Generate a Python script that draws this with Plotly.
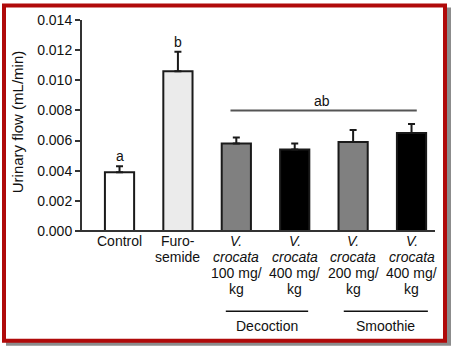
import plotly.graph_objects as go

# Urinary flow per treatment group (mean and upper SEM)
labels = [
    ["Control"],
    ["Furo-", "semide"],
    ["<i>V.</i>", "<i>crocata</i>", "100 mg/", "kg"],
    ["<i>V.</i>", "<i>crocata</i>", "400 mg/", "kg"],
    ["<i>V.</i>", "<i>crocata</i>", "200 mg/", "kg"],
    ["<i>V.</i>", "<i>crocata</i>", "400 mg/", "kg"],
]
flow = [0.0039, 0.0106, 0.0058, 0.0054, 0.0059, 0.0065]
sem = [0.0004, 0.0013, 0.0004, 0.0004, 0.0008, 0.0006]
letters = ["a", "b", "", "", "", ""]
group_letter = "ab"
group_letter_level = 0.008
groups = ["Decoction", "Smoothie"]
group_span = [(1.82, 3.23), (3.84, 5.28)]
bar_colors = ["#ffffff", "#ebebeb", "#808080", "#000000", "#808080", "#000000"]
y_ticks = [0.000, 0.002, 0.004, 0.006, 0.008, 0.010, 0.012, 0.014]

W, H = 452, 348
L, R, T, B = 77, 435, 19.5, 231
FONT = "Arial, Liberation Sans, sans-serif"
FS = 14
LINE = 15.8  # spacing between stacked label lines, px
INK = "#1a1a1a"
TXT = "#111111"


def px(x):
    return (x - L) / (R - L)


def py(y):
    return (B - y) / (B - T)


x = list(range(len(flow)))

fig = go.Figure()
fig.add_trace(go.Bar(
    x=x, y=flow, width=0.5,
    marker=dict(color=bar_colors, line=dict(color=INK, width=2)),
    error_y=dict(type="data", symmetric=False, array=sem,
                 arrayminus=[0] * len(sem), color=INK, thickness=2, width=3.5),
    showlegend=False, cliponaxis=False,
))

shapes = []
# frame shadow and red border
shapes.append(dict(type="rect", xref="paper", yref="paper",
                   x0=px(6), x1=px(451), y0=py(7), y1=py(346),
                   fillcolor="#8c8c8c", line=dict(width=0), layer="below"))
shapes.append(dict(type="rect", xref="paper", yref="paper",
                   x0=px(4), x1=px(445), y0=py(5), y1=py(341),
                   fillcolor="#ffffff", line=dict(color="#b00a0a", width=4),
                   layer="below"))
# x axis line extended to the left of the y axis
shapes.append(dict(type="line", xref="paper", yref="paper",
                   x0=0, x1=1, y0=0, y1=0,
                   line=dict(color="#333333", width=2)))
# common significance bar
shapes.append(dict(type="line", xref="x", yref="y",
                   x0=1.9, x1=5.09, y0=group_letter_level, y1=group_letter_level,
                   line=dict(color="#555555", width=2)))

annotations = []
# x category labels, one annotation per line for tight line spacing
for i, lines in enumerate(labels):
    for k, t in enumerate(lines):
        annotations.append(dict(
            x=i, y=py(241.5 + LINE * k), xref="x", yref="paper", text=t,
            showarrow=False, xanchor="center", yanchor="middle",
            font=dict(family=FONT, size=FS, color=TXT)))
# significance letters
for i, s in enumerate(letters):
    if s:
        annotations.append(dict(
            x=i, y=flow[i] + sem[i], xref="x", yref="y", text=s,
            showarrow=False, yanchor="bottom", yshift=0,
            font=dict(family=FONT, size=FS, color=TXT)))
annotations.append(dict(
    x=3.47, y=group_letter_level, xref="x", yref="y", text=group_letter,
    showarrow=False, yanchor="bottom", yshift=-1,
    font=dict(family=FONT, size=FS, color=TXT)))
# treatment groups
for name, (a, b) in zip(groups, group_span):
    shapes.append(dict(type="line", xref="x", yref="paper",
                       x0=a, x1=b, y0=py(311.5), y1=py(311.5),
                       line=dict(color=TXT, width=1.5)))
    annotations.append(dict(
        x=(a + b) / 2, y=py(326), xref="x", yref="paper", text=name,
        showarrow=False, yanchor="middle",
        font=dict(family=FONT, size=FS, color=TXT)))
# y axis title
annotations.append(dict(
    x=px(17), y=py(122), xref="paper", yref="paper",
    text="Urinary flow (mL/min)", textangle=-90, showarrow=False,
    xanchor="center", yanchor="middle",
    font=dict(family=FONT, size=15, color=TXT)))

fig.update_layout(
    width=W, height=H,
    margin=dict(l=L, r=W - R, t=T, b=H - B, pad=0),
    paper_bgcolor="#ffffff", plot_bgcolor="rgba(0,0,0,0)",
    shapes=shapes, annotations=annotations,
    xaxis=dict(range=[-0.728, 5.402], showticklabels=False, ticks="",
               showgrid=False, zeroline=False, showline=False, fixedrange=True),
    yaxis=dict(range=[0, 0.014], tickvals=y_ticks,
               ticktext=[f"{v:.3f}" for v in y_ticks],
               anchor="free", position=px(81),
               ticks="outside", ticklen=5, tickwidth=2, tickcolor="#333333",
               showline=True, linecolor="#333333", linewidth=2,
               showgrid=False, zeroline=False,
               tickfont=dict(family=FONT, size=FS, color=TXT)),
    bargap=0.5,
)

fig.write_html("out.html")
